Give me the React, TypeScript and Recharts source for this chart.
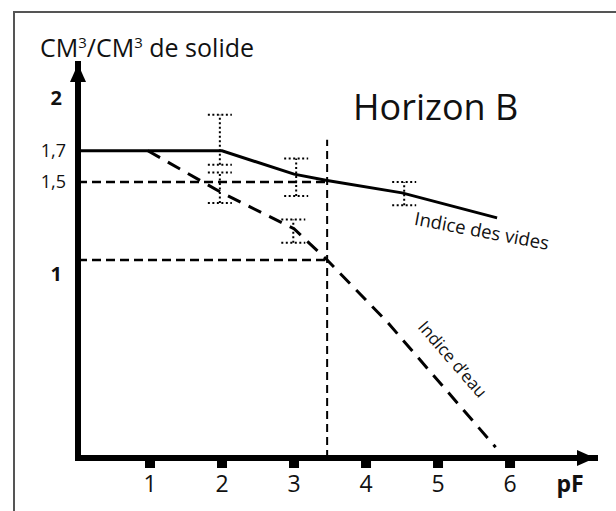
import React from 'react';
import {
  ComposedChart,
  Line,
  XAxis,
  YAxis,
  ReferenceLine,
  ReferenceDot,
  Scatter,
  ErrorBar,
} from 'recharts';

// ---- data ----
const pFTicks = [1, 2, 3, 4, 5, 6];
const yTicks = [1, 1.5, 1.7, 2];
const yTickLabels: Record<string, string> = { '1': '1', '1.5': '1,5', '1.7': '1,7', '2': '2' };
const yTickBold: Record<string, boolean> = { '1': true, '2': true };

const videsPF = [0, 2, 3, 3.46, 4.5, 5.82];
const videsVal = [1.7, 1.7, 1.55, 1.51, 1.43, 1.27];

const eauPF = [0.97, 2, 3, 3.46, 4.3, 5.8];
const eauVal = [1.7, 1.43, 1.2, 1.0, 0.6, -0.2];

const errPF = [1.97, 1.97, 3.03, 2.99, 4.53];
const errCenter = [1.7, 1.43, 1.55, 1.2, 1.43];
const errLow = [0.09, 0.065, 0.14, 0.09, 0.08];
const errHigh = [0.23, 0.13, 0.1, 0.06, 0.07];

const xMin = 0;
const xMax = 7.18;
const yMin = -0.269;
const yMax = 2.256;
const crossPF = 3.46;
const guideLevels = [1.5, 1.0];
const vertTop = 1.77;

const videsData = videsPF.map((p, i) => ({ pF: p, v: videsVal[i] }));
const eauData = eauPF.map((p, i) => ({ pF: p, v: eauVal[i] }));
const errData = errPF.map((p, i) => ({ pF: p, v: errCenter[i], err: [errLow[i], errHigh[i]] }));

const FONT = "'Open Sans', sans-serif";
const INK = '#111';

const XTick = (props: any) => {
  const { x, y, payload } = props;
  return (
    <g>
      <rect x={x - 5} y={y + 2} width={10} height={8} fill="#000" />
      <text x={x} y={y + 34} textAnchor="middle" fontFamily={FONT} fontSize={23} fill={INK}>
        {payload.value}
      </text>
    </g>
  );
};

const YTick = (props: any) => {
  const { x, y, payload } = props;
  const key = String(payload.value);
  const bold = !!yTickBold[key];
  const dy = key === '1' ? 14 : key === '2' ? -6 : 0;
  return (
    <text
      x={bold ? x - 16 : x - 12}
      y={y + dy}
      dy="0.35em"
      textAnchor="end"
      fontFamily={FONT}
      fontSize={bold ? 20 : 18}
      fontWeight={bold ? 700 : 400}
      fill={INK}
    >
      {yTickLabels[key]}
    </text>
  );
};

const UpArrow = (p: any) => (
  <polygon points={`${p.cx},${p.cy} ${p.cx - 8},${p.cy + 18} ${p.cx + 8},${p.cy + 18}`} fill="#000" />
);
const RightArrow = (p: any) => (
  <polygon points={`${p.cx},${p.cy} ${p.cx - 18},${p.cy - 8} ${p.cx - 18},${p.cy + 8}`} fill="#000" />
);

export default function App() {
  return (
    <div style={{ position: 'absolute', left: 0, top: 0, width: 616, height: 511, background: '#fff', overflow: 'hidden' }}>
      <div
        style={{
          position: 'absolute',
          left: 13,
          top: 11,
          width: 620,
          height: 520,
          borderTop: '2px solid #555',
          borderLeft: '2px solid #555',
        }}
      />
      <div style={{ position: 'absolute', left: 0, top: 0 }}>
        <ComposedChart width={616} height={511} margin={{ top: 64, left: 18, right: 21, bottom: 13 }}>
          <XAxis
            type="number"
            dataKey="pF"
            domain={[xMin, xMax]}
            ticks={pFTicks}
            allowDataOverflow
            height={40}
            tickSize={0}
            tickMargin={0}
            tickLine={false}
            axisLine={{ stroke: '#000', strokeWidth: 6, strokeLinecap: 'square' }}
            tick={<XTick />}
          />
          <YAxis
            type="number"
            domain={[yMin, yMax]}
            ticks={yTicks}
            allowDataOverflow
            width={60}
            tickSize={0}
            tickMargin={0}
            tickLine={false}
            axisLine={{ stroke: '#000', strokeWidth: 6, strokeLinecap: 'square' }}
            tick={<YTick />}
          />
          {guideLevels.map((lv) => (
            <ReferenceLine
              key={lv}
              segment={[{ x: xMin, y: lv }, { x: crossPF, y: lv }]}
              stroke="#000"
              strokeWidth={2.5}
              strokeDasharray="9 5"
              ifOverflow="visible"
            />
          ))}
          <ReferenceLine
            segment={[{ x: crossPF, y: yMin }, { x: crossPF, y: vertTop }]}
            stroke="#000"
            strokeWidth={2}
            strokeDasharray="8 5"
            ifOverflow="visible"
          />
          <Line
            data={videsData}
            dataKey="v"
            type="linear"
            stroke="#000"
            strokeWidth={3}
            dot={false}
            isAnimationActive={false}
          />
          <Line
            data={eauData}
            dataKey="v"
            type="linear"
            stroke="#000"
            strokeWidth={3}
            strokeDasharray="14 9"
            dot={false}
            isAnimationActive={false}
          />
          <Scatter data={errData} dataKey="v" shape={() => <g />} isAnimationActive={false}>
            <ErrorBar dataKey="err" direction="y" width={12} stroke="#000" strokeWidth={2} strokeDasharray="2 2.5" />
          </Scatter>
          <ReferenceDot x={xMin} y={yMax} r={0} ifOverflow="visible" shape={UpArrow} />
          <ReferenceDot x={xMax} y={yMin} r={0} ifOverflow="visible" shape={RightArrow} />
        </ComposedChart>
      </div>
      <svg width={616} height={511} style={{ position: 'absolute', left: 0, top: 0, pointerEvents: 'none' }}>
        <text x={40} y={57} fontFamily={FONT} fontSize={25} fill={INK}>
          CM<tspan dy={-9} fontSize={15}>3</tspan>
          <tspan dy={9}>/CM</tspan>
          <tspan dy={-9} fontSize={15}>3</tspan>
          <tspan dy={9}> de solide</tspan>
        </text>
        <text x={353} y={120} fontFamily={FONT} fontSize={36} fill={INK}>
          Horizon B
        </text>
        <text
          x={482}
          y={230}
          fontFamily={FONT}
          fontSize={18.5}
          fill={INK}
          textAnchor="middle"
          dominantBaseline="central"
          transform="rotate(10.6 482 230)"
        >
          Indice des vides
        </text>
        <text
          x={453}
          y={359}
          fontFamily={FONT}
          fontSize={17}
          fill={INK}
          textAnchor="middle"
          dominantBaseline="central"
          transform="rotate(49 453 359)"
        >
          Indice d’eau
        </text>
        <text x={570} y={492} fontFamily={FONT} fontSize={23} fontWeight={700} fill={INK} textAnchor="middle">
          pF
        </text>
      </svg>
    </div>
  );
}
